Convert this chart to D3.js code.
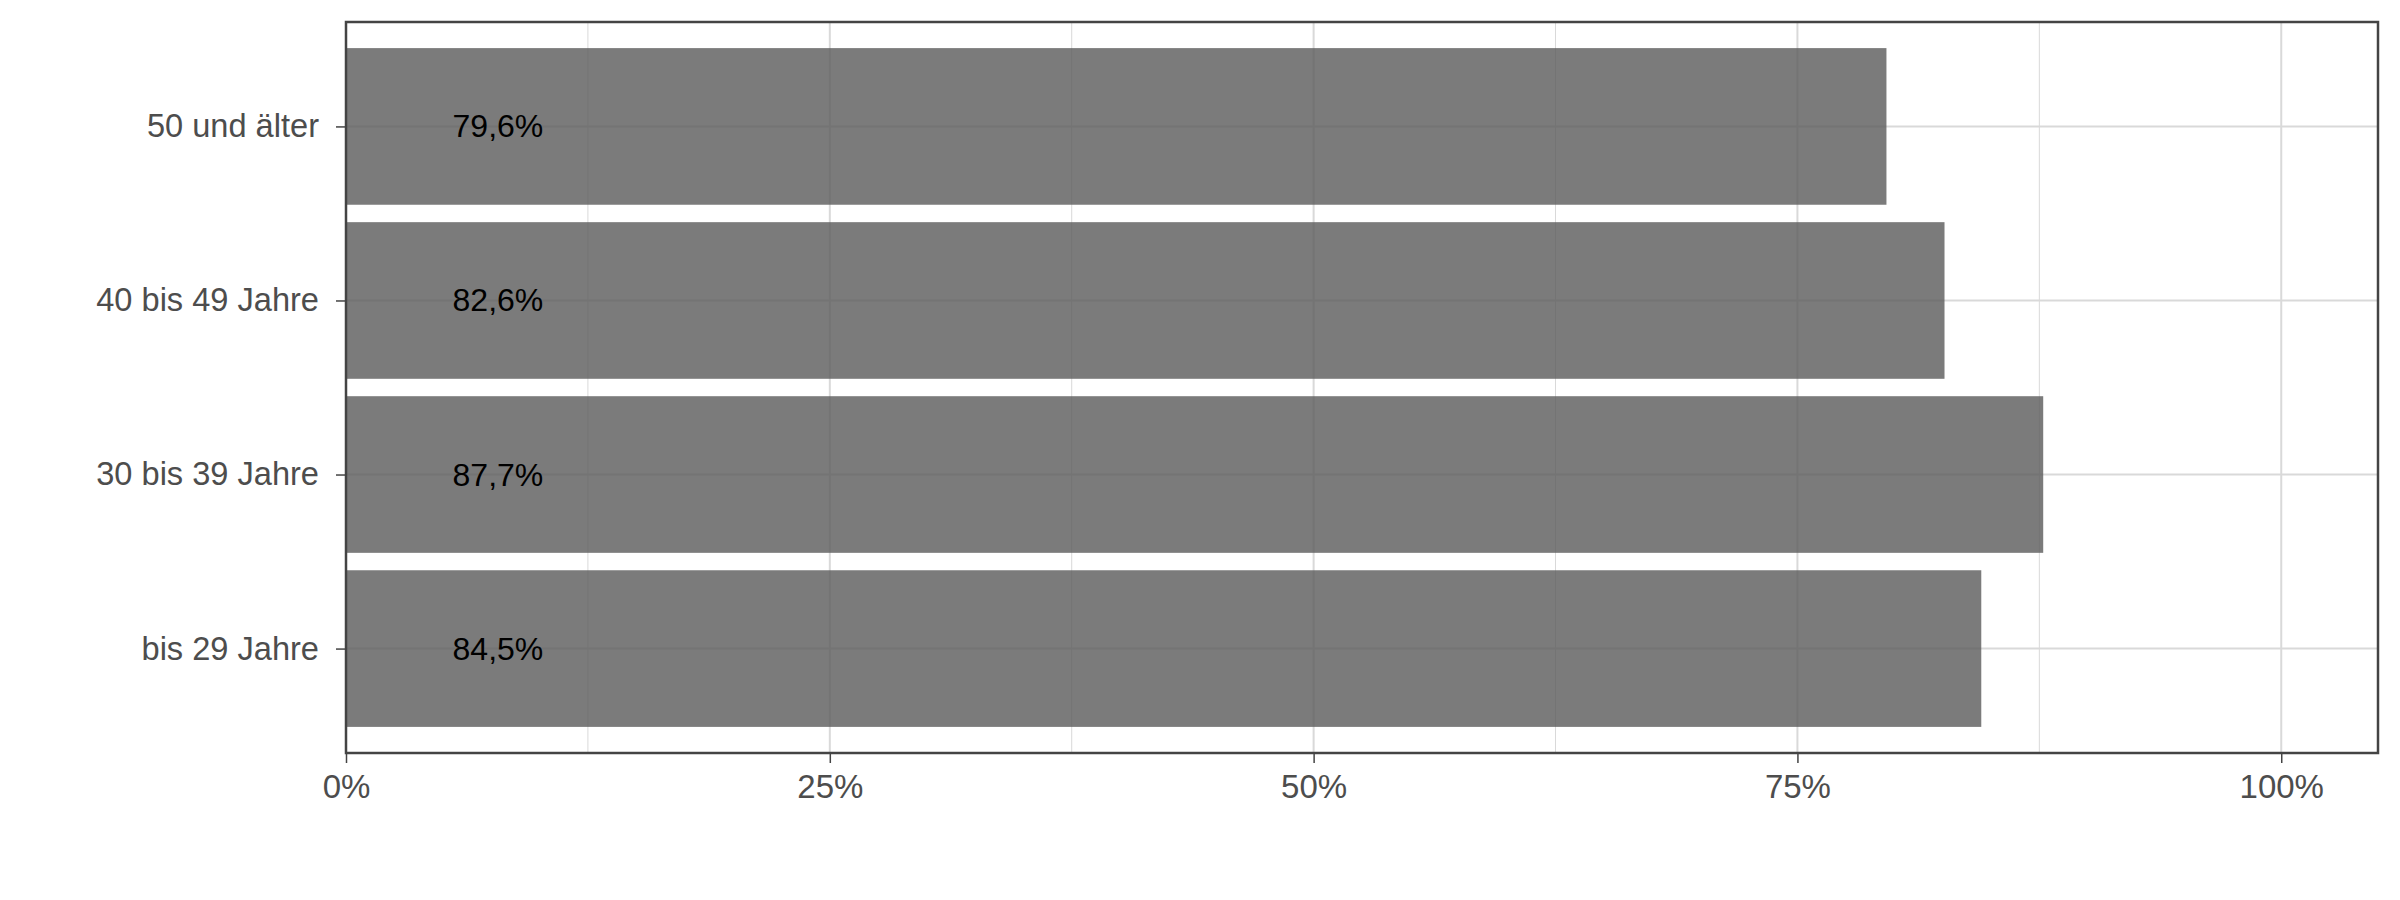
<!DOCTYPE html>
<html>
<head>
<meta charset="utf-8">
<script src="https://cdn.jsdelivr.net/npm/d3@7"></script>
<style>
  html, body { margin: 0; padding: 0; background: #ffffff; }
  svg { display: block; }
</style>
</head>
<body>
<script>
// ---- data ----
const categories = ["bis 29 Jahre", "30 bis 39 Jahre", "40 bis 49 Jahre", "50 und älter"];
const values = [0.845, 0.877, 0.826, 0.796];
const valueLabels = ["84,5%", "87,7%", "82,6%", "79,6%"];
const xTicks = [0, 0.25, 0.5, 0.75, 1.0];
const xTickLabels = ["0%", "25%", "50%", "75%", "100%"];
const xMinorTicks = [0.125, 0.375, 0.625, 0.875];
const labelPosition = 0.0785;

// ---- layout ----
const W = 2400, H = 900;
const margin = { left: 346, right: 22, top: 22, bottom: 147 };
const pw = W - margin.left - margin.right;
const ph = H - margin.top - margin.bottom;

const svg = d3.select("body").append("svg").attr("width", W).attr("height", H);
const g = svg.append("g").attr("transform", `translate(${margin.left},${margin.top})`);

const x = d3.scaleLinear().domain([0, 1.05]).range([0, pw]);
// discrete scale with ggplot-like expansion of 0.6 units on each side
const order = categories.slice().reverse(); // top to bottom
const unit = ph / (categories.length - 1 + 1.2);
const yCenter = d3.scaleOrdinal().domain(order).range(order.map((d, i) => 0.6 * unit + i * unit));
const barH = 0.9 * unit;

const gridColor = "#d9d9d9";
// minor grid
g.selectAll("line.minor").data(xMinorTicks).join("line")
  .attr("x1", d => x(d)).attr("x2", d => x(d)).attr("y1", 0).attr("y2", ph)
  .attr("stroke", gridColor).attr("stroke-width", 1);
// major grid vertical
g.selectAll("line.majorx").data(xTicks).join("line")
  .attr("x1", d => x(d)).attr("x2", d => x(d)).attr("y1", 0).attr("y2", ph)
  .attr("stroke", gridColor).attr("stroke-width", 2);
// major grid horizontal
g.selectAll("line.majory").data(categories).join("line")
  .attr("x1", 0).attr("x2", pw).attr("y1", d => yCenter(d)).attr("y2", d => yCenter(d))
  .attr("stroke", gridColor).attr("stroke-width", 2);

// bars
g.selectAll("rect.bar").data(categories).join("rect")
  .attr("x", x(0))
  .attr("y", d => yCenter(d) - barH / 2)
  .attr("width", (d, i) => x(values[i]) - x(0))
  .attr("height", barH)
  .attr("fill", "#5a5a5a").attr("fill-opacity", 0.8);

// value labels
g.selectAll("text.val").data(categories).join("text")
  .attr("x", x(labelPosition))
  .attr("y", d => yCenter(d))
  .attr("text-anchor", "middle")
  .attr("dominant-baseline", "central")
  .attr("font-family", "Liberation Sans, Arial, sans-serif")
  .attr("font-size", 32)
  .attr("fill", "#000000")
  .text((d, i) => valueLabels[i]);

// panel border
g.append("rect").attr("x", 0).attr("y", 0).attr("width", pw).attr("height", ph)
  .attr("fill", "none").attr("stroke", "#444444").attr("stroke-width", 2.5);

// x axis
const xAxis = g.append("g").attr("transform", `translate(0,${ph})`)
  .call(d3.axisBottom(x).tickValues(xTicks).tickFormat((d, i) => xTickLabels[i]).tickSize(10).tickPadding(12));
xAxis.select(".domain").remove();
xAxis.selectAll(".tick line").attr("stroke", "#444444").attr("stroke-width", 1.5);
xAxis.selectAll(".tick text").attr("font-family", "Liberation Sans, Arial, sans-serif")
  .attr("font-size", 33).attr("fill", "#4d4d4d");

// y axis
const yAxis = g.append("g")
  .call(d3.axisLeft(d3.scalePoint().domain(order).range([yCenter(order[0]), yCenter(order[order.length - 1])]))
    .tickSize(10).tickPadding(17));
yAxis.select(".domain").remove();
yAxis.selectAll(".tick line").attr("stroke", "#444444").attr("stroke-width", 1.5);
yAxis.selectAll(".tick text").attr("font-family", "Liberation Sans, Arial, sans-serif")
  .attr("font-size", 32.6).attr("fill", "#4d4d4d");
</script>
</body>
</html>
